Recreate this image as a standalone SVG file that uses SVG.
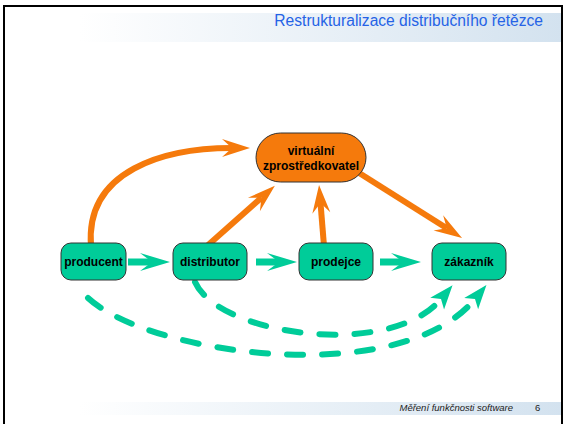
<svg xmlns="http://www.w3.org/2000/svg" width="565" height="424" viewBox="0 0 565 424">
<style>
.g{fill:#00CC99;stroke:#333;stroke-width:1}
.o{fill:#F57A0C;stroke:#333;stroke-width:1}
.t{font-family:"Liberation Sans",Arial,sans-serif;font-weight:bold;font-size:12px;fill:#000;text-anchor:middle}
.oa{fill:none;stroke:#F57A0C;stroke-width:6}
.ga{fill:none;stroke:#00CC99;stroke-width:7}
.gd{fill:none;stroke:#00CC99;stroke-width:6;stroke-linecap:round;stroke-dasharray:16 19}
</style>
<defs>
<linearGradient id="band" gradientUnits="userSpaceOnUse" x1="80" y1="0" x2="562" y2="0">
<stop offset="0" stop-color="#ffffff"/><stop offset="1" stop-color="#d3e2ef"/>
</linearGradient>
<marker id="mo" markerUnits="userSpaceOnUse" markerWidth="30" markerHeight="20" refX="10" refY="9" orient="auto" overflow="visible">
<path d="M0,0 L28,9 L0,18 L10,9 Z" fill="#F57A0C"/>
</marker>
<marker id="mg" markerUnits="userSpaceOnUse" markerWidth="32" markerHeight="20" refX="12" refY="9" orient="auto" overflow="visible">
<path d="M0,0 L30,9 L0,18 L12,9 Z" fill="#00CC99"/>
</marker>
<marker id="md" markerUnits="userSpaceOnUse" markerWidth="26" markerHeight="20" refX="6" refY="9" orient="auto" overflow="visible">
<path d="M0,0 L24,9 L0,18 L6,9 Z" fill="#00CC99"/>
</marker>
</defs>
<rect x="0" y="0" width="565" height="424" fill="#fff"/>
<rect x="0" y="13" width="562" height="29" fill="url(#band)"/>
<rect x="0" y="402" width="562" height="13" fill="url(#band)"/>
<path d="M4,430 L4,6 L562,6 L562,430" fill="none" stroke="#000" stroke-width="2"/>
<text x="543" y="26" font-family="Liberation Sans,Arial,sans-serif" font-size="15.6" fill="#2563E6" text-anchor="end">Restrukturalizace distribučního řetězce</text>
<text x="513" y="411" font-family="Liberation Sans,Arial,sans-serif" font-size="9.5" font-style="italic" fill="#222" text-anchor="end">Měření funkčnosti software</text>
<text x="535" y="411" font-family="Liberation Sans,Arial,sans-serif" font-size="9.5" fill="#222">6</text>
<g id="connectors">
<path class="oa" d="M91,246 C85,170 165,148 232,148" marker-end="url(#mo)"/>
<path class="oa" d="M207,246 L261.4,197.8" marker-end="url(#mo)"/>
<path class="oa" d="M324,246 L320.5,203" marker-end="url(#mo)"/>
<path class="oa" d="M356,171 L446.8,228.3" marker-end="url(#mo)"/>
<path class="ga" d="M128,262 L152,262" marker-end="url(#mg)"/>
<path class="ga" d="M256,262 L279,262" marker-end="url(#mg)"/>
<path class="ga" d="M380,262 L403,262" marker-end="url(#mg)"/>
<path class="gd" d="M88,298 C150,355 400,390 475,299" marker-end="url(#md)"/>
<path class="gd" d="M195,282 C218,335 390,360 441,299" marker-end="url(#md)"/>
</g>
<g id="virtualni">
<rect class="o" x="256" y="133" width="110" height="49" rx="24.5"/>
<text class="t" x="311" y="155">virtuální</text>
<text class="t" x="311" y="170">zprostředkovatel</text>
</g>
<g id="producent">
<rect class="g" x="61" y="243" width="65" height="37" rx="10"/>
<text class="t" x="93.5" y="266">producent</text>
</g>
<g id="distributor">
<rect class="g" x="173" y="243" width="74" height="37" rx="10"/>
<text class="t" x="210" y="266">distributor</text>
</g>
<g id="prodejce">
<rect class="g" x="299" y="243" width="74" height="37" rx="10"/>
<text class="t" x="336" y="266">prodejce</text>
</g>
<g id="zakaznik">
<rect class="g" x="432" y="243" width="74" height="37" rx="10"/>
<text class="t" x="469" y="266">zákazník</text>
</g>
</svg>
